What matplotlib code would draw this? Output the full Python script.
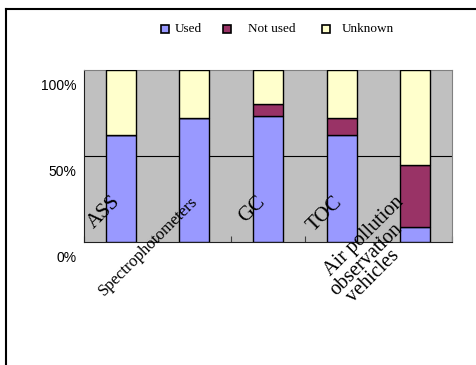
import matplotlib.pyplot as plt
from matplotlib.patches import Rectangle
from matplotlib.lines import Line2D
from matplotlib.transforms import offset_copy
import numpy as np

# Datos (porcentaje de equipos)
categorias = ['ASS', 'Spectrophotometers', 'GC', 'TOC',
              'Air pollution\nobservation\nvehicles']
usado = [62, 72, 73, 62, 9]
no_usado = [0, 0, 7, 10, 36]
desconocido = [38, 28, 20, 28, 55]
series = ['Used', 'Not used', 'Unknown']
colores = ['#9999FF', '#993366', '#FFFFCC']
tam_etiquetas = [15, 12, 15, 15, 14.5]
desp_etiquetas = [0, 4, -2, 1, -11]

fig = plt.figure(figsize=(4.76, 3.65), dpi=100)
ax = fig.add_axes([84 / 476, 123 / 365, 368 / 476, 172 / 365])
ax.set_facecolor('#C0C0C0')

x = np.arange(len(categorias))
base = np.zeros(len(categorias))
for valores, color in zip([usado, no_usado, desconocido], colores):
    ax.bar(x, valores, width=0.41, bottom=base, color=color,
           edgecolor='black', linewidth=1.0, zorder=3)
    base += np.array(valores)

ax.set_xlim(-0.5, len(categorias) - 0.5)
ax.set_ylim(0, 100)

# Línea de referencia al 50 %
ax.axhline(50, color='black', linewidth=0.8, zorder=1)

# Marcas entre categorías hacia dentro
ax.set_xticks(np.arange(len(categorias) + 1) - 0.5)
ax.set_xticklabels([])
ax.tick_params(axis='x', direction='in', length=4, color='#404040', width=0.8)
ax.set_yticks([])

for lado in ['top', 'right']:
    ax.spines[lado].set_color('#808080')
for lado in ['left', 'bottom']:
    ax.spines[lado].set_color('#202020')

# Etiquetas del eje Y
for v, etiqueta in zip([100, 50, 0], ['100%', '50%', '0%']):
    ax.text(-0.6, v - 9.5, etiqueta, ha='right', va='center',
            fontsize=10, family='Liberation Sans', transform=ax.transData,
            clip_on=False)

# Etiquetas de categoría giradas (cada línea por separado)
for i, (nombre, tam, dx) in enumerate(zip(categorias, tam_etiquetas,
                                          desp_etiquetas)):
    for k, linea in enumerate(nombre.split('\n')):
        tr = offset_copy(ax.transData, fig=fig, x=dx - 2 * k, y=-27 * k,
                         units='dots')
        ax.text(i, 23, linea, transform=tr, rotation=45,
                rotation_mode='anchor', ha='right', va='baseline',
                fontsize=tam, family='Liberation Serif',
                clip_on=False, zorder=5)

# Leyenda superior
ley_cuadros = [161, 223, 322]
ley_textos = [175, 248, 342]
for nombre, color, xc, xt in zip(series, colores, ley_cuadros, ley_textos):
    fig.patches.append(Rectangle((xc / 476, 1 - 33 / 365), 8 / 476, 8 / 365,
                                 transform=fig.transFigure, facecolor=color,
                                 edgecolor='black', linewidth=1.2))
    fig.text(xt / 476, 1 - 29 / 365, nombre, ha='left', va='center',
             fontsize=9.5, family='Liberation Serif')

# Marco exterior
fig.lines.append(Line2D([6 / 476, 1], [1 - 9 / 365, 1 - 9 / 365],
                        transform=fig.transFigure, color='black', linewidth=1.5))
fig.lines.append(Line2D([6 / 476, 6 / 476], [0, 1 - 9 / 365],
                        transform=fig.transFigure, color='black', linewidth=1.5))

fig.savefig('out.png', dpi=100, facecolor='white')
